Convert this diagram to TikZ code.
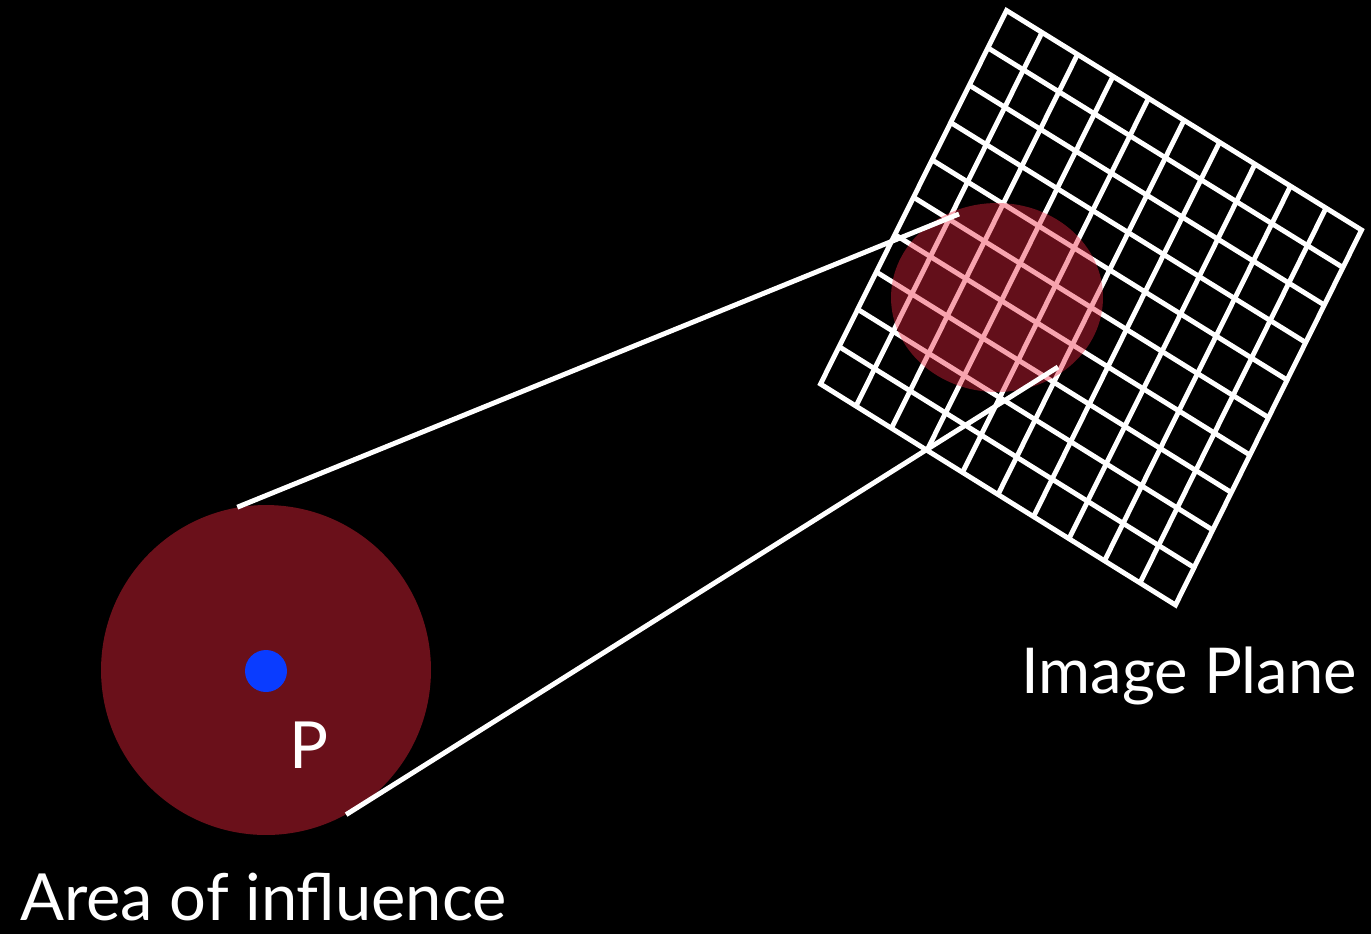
\documentclass[tikz,border=0pt]{standalone}
\usepackage{fontspec}
\setmainfont{Lato}
\usepackage{tikz}
\usetikzlibrary{calc,positioning,shapes.geometric}
\definecolor{inkbg}{HTML}{000000}
\definecolor{areared}{HTML}{6A101A}
\definecolor{spotred}{HTML}{EE263E}
\definecolor{pointblue}{HTML}{0A3CFF}
\tikzset{
  gridline/.style={draw=white, line width=2.8pt},
  gridframe/.style={gridline, line join=miter},
  rayline/.style={draw=white, line width=2.8pt},
  areadisc/.style={circle, fill=areared, minimum size=6.6cm, inner sep=0pt},
  spotdisc/.style={ellipse, fill=spotred, fill opacity=0.42, minimum width=4.24cm, minimum height=3.78cm, inner sep=0pt},
  pointdot/.style={circle, fill=pointblue, minimum size=0.84cm, inner sep=0pt},
  biglabel/.style={text=white, inner sep=0pt, anchor=base west, font=\fontsize{37}{40}\selectfont}
}

\begin{document}
\begin{tikzpicture}[x=0.02cm, y=-0.02cm]
  \fill[inkbg] (0,0) rectangle (1371,934);
  \useasboundingbox (0,0) rectangle (1371,934);
  % image plane corners
  \coordinate (top) at (1006.5,10.5);
  \coordinate (right) at (1361.5,230);
  \coordinate (bottom) at (1175.5,605);
  \coordinate (left) at (820.5,384);
  \draw[gridframe] (top) -- (right) -- (bottom) -- (left) -- cycle;
  \foreach \i in {1,...,9} {
    \draw[gridline] ($(top)!\i/10!(right)$) -- ($(left)!\i/10!(bottom)$);
    \draw[gridline] ($(top)!\i/10!(left)$) -- ($(right)!\i/10!(bottom)$);
  }
  \node[spotdisc] (spot) at (997,297.5) {};
  \node[areadisc] (area) at (266,670) {};
  \node[pointdot] (pt) at (266,671) {};
  \coordinate (near) at (959,214);
  \coordinate (far) at (1058,367);
  \draw[rayline] (area.100) -- (near);
  \draw[rayline] (area.-61) -- (far);
  \node[biglabel] (plabel) at (289,768) {P};
  \node[biglabel] (planelabel) at (1021,693) {\fontsize{36}{40}\selectfont Image Plane};
  \node[biglabel] (arealabel) at (20,920) {Area of influence};
\end{tikzpicture}
\end{document}
